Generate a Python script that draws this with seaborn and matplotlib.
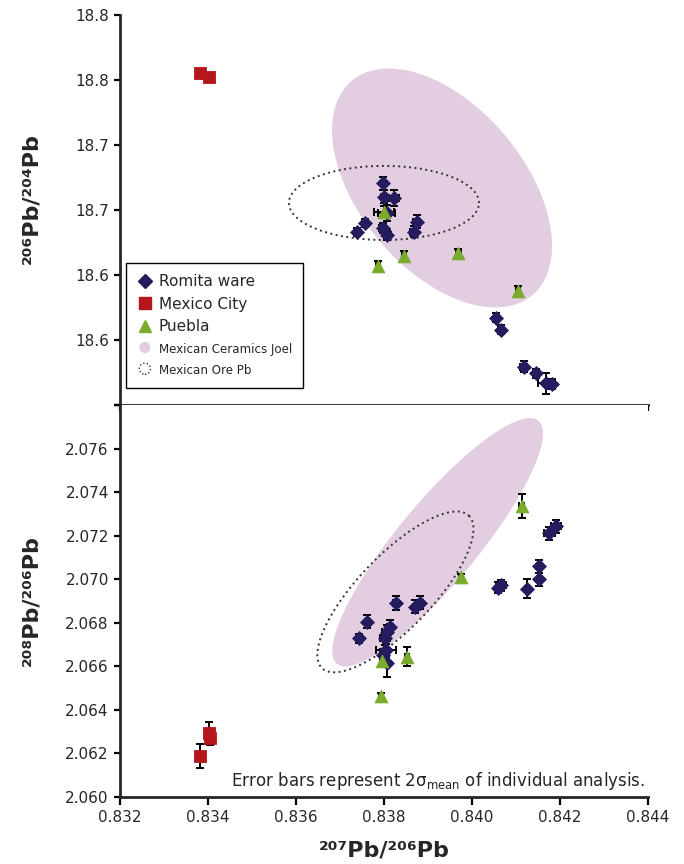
import numpy as np
import matplotlib
matplotlib.use("Agg")
import matplotlib.pyplot as plt
import seaborn as sns
from matplotlib.lines import Line2D
from matplotlib.patches import Ellipse, Patch
from matplotlib.legend_handler import HandlerPatch

# ---- data ----
# upper panel: 207Pb/206Pb vs 206Pb/204Pb
romita_x_top = [0.83798, 0.83800, 0.83823, 0.83806, 0.83757, 0.83739, 0.83797, 0.83808, 0.83874, 0.83868,
                0.84055, 0.84065, 0.84118, 0.84145, 0.84168, 0.84181]
romita_y_top = [18.6705, 18.6602, 18.6590, 18.6475, 18.6398, 18.6333, 18.6359, 18.6308, 18.6410, 18.6333,
                18.5672, 18.5577, 18.5295, 18.5244, 18.5167, 18.5159]
romita_xerr_top = [0.00005, 0.00006, 0.00012, 0.00020, 0.00005, 0.00005, 0.00008, 0.00008, 0.00008, 0.00008,
                   0.00005, 0.00005, 0.00008, 0.00005, 0.00019, 0.00008]
romita_yerr_top = [0.0050, 0.0050, 0.0062, 0.0060, 0.0030, 0.0030, 0.0040, 0.0040, 0.0050, 0.0040,
                   0.0035, 0.0035, 0.0040, 0.0035, 0.0081, 0.0040]

mexcity_x_top = [0.83383, 0.83403]
mexcity_y_top = [18.7556, 18.7525]
mexcity_xerr_top = [0.00003, 0.00003]
mexcity_yerr_top = [0.0020, 0.0020]

puebla_x_top = [0.83800, 0.83787, 0.83846, 0.83969, 0.84105]
puebla_y_top = [18.6487, 18.6069, 18.6146, 18.6167, 18.5880]
puebla_xerr_top = [0.00023, 0.00005, 0.00005, 0.00005, 0.00005]
puebla_yerr_top = [0.0040, 0.0040, 0.0035, 0.0035, 0.0035]

# lower panel: 207Pb/206Pb vs 208Pb/206Pb
romita_x_bot = [0.83827, 0.83871, 0.83883, 0.83762, 0.83744, 0.83806, 0.83814, 0.83802, 0.83805, 0.83798, 0.83807,
                0.84191, 0.84176, 0.84152, 0.84153, 0.84066, 0.84060, 0.84126]
romita_y_bot = [2.06891, 2.06873, 2.06893, 2.06804, 2.06728, 2.06758, 2.06781, 2.06728, 2.06674, 2.06651, 2.06615,
                2.07243, 2.07212, 2.07060, 2.06999, 2.06973, 2.06962, 2.06957]
romita_xerr_bot = [0.00006, 0.00006, 0.00006, 0.00005, 0.00004, 0.00010, 0.00006, 0.00012, 0.00022, 0.00006, 0.00005,
                   0.00012, 0.00012, 0.00005, 0.00005, 0.00012, 0.00005, 0.00005]
romita_yerr_bot = [0.00034, 0.00030, 0.00030, 0.00030, 0.00020, 0.00030, 0.00030, 0.00030, 0.00030, 0.00030, 0.00064,
                   0.00030, 0.00030, 0.00030, 0.00030, 0.00025, 0.00025, 0.00045]

mexcity_x_bot = [0.83382, 0.83403, 0.83405]
mexcity_y_bot = [2.06188, 2.06295, 2.06270]
mexcity_xerr_bot = [0.00003, 0.00003, 0.00003]
mexcity_yerr_bot = [0.00055, 0.00050, 0.00030]

puebla_x_bot = [0.83795, 0.83852, 0.83793, 0.83975, 0.84113]
puebla_y_bot = [2.06625, 2.06644, 2.06463, 2.07011, 2.07335]
puebla_xerr_bot = [0.00005, 0.00005, 0.00004, 0.00004, 0.00005]
puebla_yerr_bot = [0.00025, 0.00044, 0.00015, 0.00015, 0.00055]

# ellipses: centre and two conjugate semi-axis vectors, in data units
joel_top_center = (0.83932, 18.6669)
joel_top_axes = [(0.00205, -0.0825), (-0.00143, -0.0405)]
ore_top_center = (0.83800, 18.6554)
ore_top_axes = [(0.00216, 0.0), (0.0, 0.0285)]
joel_bot_center = (0.83922, 2.07170)
joel_bot_axes = [(0.00229, 0.00558), (0.00070, -0.00117)]
ore_bot_center = (0.83826, 2.06942)
ore_bot_axes = [(0.00167, 0.00350), (0.00060, -0.00118)]

top_yticks = [18.50, 18.55, 18.60, 18.65, 18.70, 18.75, 18.80]
top_ylabels = ["", "18.6", "18.6", "18.7", "18.7", "18.8", "18.8"]
bot_yticks = [2.060, 2.062, 2.064, 2.066, 2.068, 2.070, 2.072, 2.074, 2.076, 2.078]
bot_ylabels = ["2.060", "2.062", "2.064", "2.066", "2.068", "2.070", "2.072", "2.074", "2.076", ""]
xticks = [0.832, 0.834, 0.836, 0.838, 0.840, 0.842, 0.844]

# ---- style ----
NAVY = "#241c5e"
RED = "#b5161c"
GREEN = "#7bab2d"
PINK = "#e3cde1"

sns.set_style("ticks")
plt.rcParams["font.family"] = ["DejaVu Sans"]

fig = plt.figure(figsize=(6.84, 8.64), dpi=100)
ax_top = fig.add_axes([0.1754, 0.5313, 0.7719, 0.4514])
ax_bot = fig.add_axes([0.1754, 0.0775, 0.7719, 0.4537])


def draw_ellipse(ax, center, axes_vec, filled):
    t = np.linspace(0, 2 * np.pi, 300)
    xs = center[0] + axes_vec[0][0] * np.cos(t) + axes_vec[1][0] * np.sin(t)
    ys = center[1] + axes_vec[0][1] * np.cos(t) + axes_vec[1][1] * np.sin(t)
    if filled:
        ax.fill(xs, ys, color=PINK, lw=0, zorder=1)
    else:
        ax.plot(xs, ys, color="#333333", lw=1.4, ls=(0, (1.0, 1.8)), zorder=1.5)


def draw_group(ax, x, y, xerr, yerr, marker, color, s):
    ax.errorbar(x, y, xerr=xerr, yerr=yerr, fmt="none", ecolor="black",
                elinewidth=1.4, capsize=2.8, capthick=1.4, zorder=2)
    sns.scatterplot(x=x, y=y, marker=marker, color=color, s=s, edgecolor=color,
                    linewidth=0.6, ax=ax, zorder=3, legend=False)


# upper panel
draw_ellipse(ax_top, joel_top_center, joel_top_axes, True)
draw_ellipse(ax_top, ore_top_center, ore_top_axes, False)
draw_group(ax_top, romita_x_top, romita_y_top, romita_xerr_top, romita_yerr_top, "D", NAVY, 50)
draw_group(ax_top, mexcity_x_top, mexcity_y_top, mexcity_xerr_top, mexcity_yerr_top, "s", RED, 80)
draw_group(ax_top, puebla_x_top, puebla_y_top, puebla_xerr_top, puebla_yerr_top, "^", GREEN, 85)

# lower panel
draw_ellipse(ax_bot, joel_bot_center, joel_bot_axes, True)
draw_ellipse(ax_bot, ore_bot_center, ore_bot_axes, False)
draw_group(ax_bot, romita_x_bot, romita_y_bot, romita_xerr_bot, romita_yerr_bot, "D", NAVY, 50)
draw_group(ax_bot, mexcity_x_bot, mexcity_y_bot, mexcity_xerr_bot, mexcity_yerr_bot, "s", RED, 80)
draw_group(ax_bot, puebla_x_bot, puebla_y_bot, puebla_xerr_bot, puebla_yerr_bot, "^", GREEN, 85)

# axes cosmetics
for ax in (ax_top, ax_bot):
    ax.set_xlim(0.832, 0.844)
    ax.set_xticks(xticks)
    for side in ("top", "right"):
        ax.spines[side].set_visible(False)
    for side in ("left", "bottom"):
        ax.spines[side].set_linewidth(2.0)
    ax.tick_params(axis="both", direction="out", width=1.6, length=4.5, labelsize=11, color="black")
    ax.set_xlabel("")
    ax.set_ylabel("")

ax_top.set_ylim(18.50, 18.80)
ax_top.set_yticks(top_yticks)
ax_top.set_yticklabels(top_ylabels)
ax_top.tick_params(axis="x", labelbottom=False)

ax_bot.set_ylim(2.060, 2.078)
ax_bot.set_yticks(bot_yticks)
ax_bot.set_yticklabels(bot_ylabels)
ax_bot.set_xticklabels([f"{v:.3f}" for v in xticks])
ax_bot.tick_params(axis="x", length=6)

ax_top.set_ylabel("²⁰⁶Pb/²⁰⁴Pb", fontsize=16, fontweight="bold")
ax_top.yaxis.set_label_coords(-0.148, 0.53)
ax_bot.set_ylabel("²⁰⁸Pb/²⁰⁶Pb", fontsize=16, fontweight="bold")
ax_bot.yaxis.set_label_coords(-0.148, 0.50)
ax_bot.set_xlabel("²⁰⁷Pb/²⁰⁶Pb", fontsize=16, fontweight="bold")
ax_bot.xaxis.set_label_coords(0.5, -0.11)

ax_bot.text(0.994, 0.028, r"Error bars represent 2σ$_{\rm mean}$ of individual analysis.",
            transform=ax_bot.transAxes, ha="right", va="baseline", fontsize=12)


# legend
def make_circle(legend, orig_handle, xdescent, ydescent, width, height, fontsize):
    d = height * 1.05
    return Ellipse(xy=(0.5 * width - xdescent, 0.5 * height - ydescent), width=d, height=d)


handles = [
    Line2D([], [], marker="D", color=NAVY, ls="none", markersize=7),
    Line2D([], [], marker="s", color=RED, ls="none", markersize=9),
    Line2D([], [], marker="^", color=GREEN, ls="none", markersize=9),
    Patch(facecolor=PINK, edgecolor="none"),
    Patch(facecolor="none", edgecolor="#333333", linestyle=(0, (1.0, 1.6)), linewidth=1.0),
]
labels = ["Romita ware", "Mexico City", "Puebla", "Mexican Ceramics Joel", "Mexican Ore Pb"]
leg = ax_top.legend(handles, labels, loc="lower left", bbox_to_anchor=(0.011, 0.044),
                    handler_map={Patch: HandlerPatch(patch_func=make_circle)},
                    frameon=True, fancybox=False, edgecolor="black", framealpha=1,
                    fontsize=11, handlelength=1.1, handletextpad=0.35, labelspacing=0.5,
                    borderpad=0.7, borderaxespad=0)
leg.get_frame().set_linewidth(1.0)
for t in leg.get_texts()[3:]:
    t.set_fontsize(8.6)

fig.savefig("out.png", dpi=100)
